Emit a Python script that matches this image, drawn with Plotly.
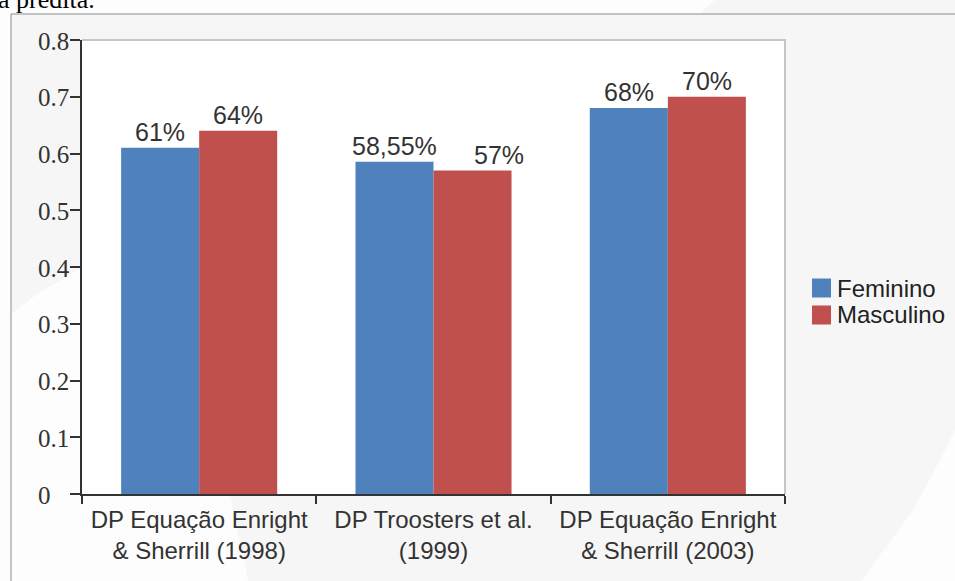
import plotly.graph_objects as go

# ---- data -------------------------------------------------------------
categories = [
    "DP Equação Enright<br>& Sherrill (1998)",
    "DP Troosters et al.<br>(1999)",
    "DP Equação Enright<br>& Sherrill (2003)",
]
series_names = ["Feminino", "Masculino"]
feminino = [0.61, 0.5855, 0.68]
masculino = [0.64, 0.57, 0.70]
feminino_labels = ["61%", "58,55%", "68%"]
masculino_labels = ["64%", "57%", "70%"]
y_tick_values = [0, 0.1, 0.2, 0.3, 0.4, 0.5, 0.6, 0.7, 0.8]
y_tick_labels = ["0", "0.1", "0.2", "0.3", "0.4", "0.5", "0.6", "0.7", "0.8"]

# ---- style ------------------------------------------------------------
W, H = 955, 581
L, R, T, B = 82, 785, 40, 494          # plot area in pixels
BLUE, RED = "#4F81BD", "#C0504D"
TEXT = "#333333"
SANS = "Liberation Sans, Arial, sans-serif"
SERIF = "Liberation Serif, Times New Roman, serif"
BARGAP = 0.334
colors = [BLUE, RED]


def px(x):
    return (x - L) / (R - L)


def py(y):
    return (B - y) / (B - T)


def path(points):
    pts = [f"{px(x):.5f},{py(y):.5f}" for x, y in points]
    return "M" + " L".join(pts) + " Z"


fig = go.Figure()
for name, vals, col in zip(series_names, [feminino, masculino], colors):
    fig.add_bar(x=categories, y=vals, name=name, marker_color=col,
                marker_line_width=0, showlegend=False)

# value labels above each bar
half = (1 - BARGAP) / 4
label_shift = {(1, 1): 26}
annotations = []
for s, (vals, labels) in enumerate([(feminino, feminino_labels),
                                    (masculino, masculino_labels)]):
    for i, (v, t) in enumerate(zip(vals, labels)):
        annotations.append(dict(
            x=i + (-half if s == 0 else half), y=v, xref="x", yref="y",
            text=t, showarrow=False, yanchor="bottom", xanchor="center",
            xshift=label_shift.get((i, s), 0), yshift=0,
            font=dict(family=SANS, size=25, color=TEXT)))

# y tick labels, left-aligned in the margin
for v, t in zip(y_tick_values, y_tick_labels):
    annotations.append(dict(x=px(36), y=v, xref="paper", yref="y", text=t,
                            showarrow=False, xanchor="left", yanchor="middle",
                            yshift=-1,
                            font=dict(family=SERIF, size=25, color=TEXT)))

# legend
legend_y = [288, 315]
shapes = []
for name, col, ly in zip(series_names, colors, legend_y):
    shapes.append(dict(type="rect", xref="paper", yref="paper",
                       x0=px(812), x1=px(831), y0=py(ly - 9.5), y1=py(ly + 9.5),
                       fillcolor=col, line=dict(width=0), layer="above"))
    annotations.append(dict(x=px(835), y=py(ly), xref="paper", yref="paper",
                            text=name, showarrow=False, xanchor="left",
                            yanchor="middle",
                            font=dict(family=SANS, size=24, color="#222222")))

# page text above the frame
annotations.append(dict(x=px(-4), y=py(-1), xref="paper", yref="paper",
                        text="a predita.", showarrow=False, xanchor="left",
                        yanchor="middle",
                        font=dict(family=SERIF, size=26, color="#000000")))

# background: light panel, white page strips and faint watermark
bg_shapes = [
    dict(points=[(-5, -5), (720, -5), (700, 14), (-5, 14)]),          # top page strip
    dict(points=[(-5, -5), (11, -5), (11, 600), (-5, 600)]),          # left page strip
    dict(points=[(11, 314), (40, 292), (82, 268), (140, 260), (230, 494),
                 (252, 600), (11, 600)]),                              # lower-left swoosh
    dict(points=[(848, 600), (880, 555), (912, 512), (940, 460),
                 (960, 420), (960, 600)]),                             # lower-right swoosh
]
for b in bg_shapes:
    shapes.append(dict(type="path", xref="paper", yref="paper",
                       path=path(b["points"]), fillcolor="#fdfdfd",
                       line=dict(width=0), layer="below"))
# frame lines
shapes.append(dict(type="line", xref="paper", yref="paper",
                   x0=px(11), x1=px(960), y0=py(14), y1=py(14),
                   line=dict(color="#8c8c8c", width=1), layer="below"))
shapes.append(dict(type="line", xref="paper", yref="paper",
                   x0=px(11), x1=px(11), y0=py(14), y1=py(600),
                   line=dict(color="#8c8c8c", width=1), layer="below"))
# plot area and its light top/right border
shapes.append(dict(type="rect", xref="paper", yref="paper",
                   x0=0, x1=1, y0=0, y1=1, fillcolor="white",
                   line=dict(width=0), layer="below"))
shapes.append(dict(type="path", xref="paper", yref="paper",
                   path="M0,1 L1,1 L1,0", line=dict(color="#c6c6c6", width=2),
                   layer="below"))

fig.update_layout(
    width=W, height=H,
    margin=dict(l=L, r=W - R, t=T, b=H - B, pad=0),
    paper_bgcolor="#f6f6f6", plot_bgcolor="white",
    barmode="group", bargap=BARGAP, bargroupgap=0,
    showlegend=False,
    annotations=annotations, shapes=shapes,
    xaxis=dict(type="category", showgrid=False, zeroline=False,
               showline=True, linecolor="#333333", linewidth=2,
               ticks="outside", tickson="boundaries", ticklen=8,
               tickcolor="#333333", tickwidth=2, ticklabelstandoff=3,
               tickfont=dict(family=SANS, size=24, color=TEXT)),
    yaxis=dict(range=[0, 0.8], tickvals=y_tick_values, showticklabels=False,
               showgrid=False, zeroline=False, showline=True,
               linecolor="#333333", linewidth=2, ticks="outside", ticklen=10,
               tickcolor="#333333", tickwidth=2),
)

fig.write_html("out.html")
